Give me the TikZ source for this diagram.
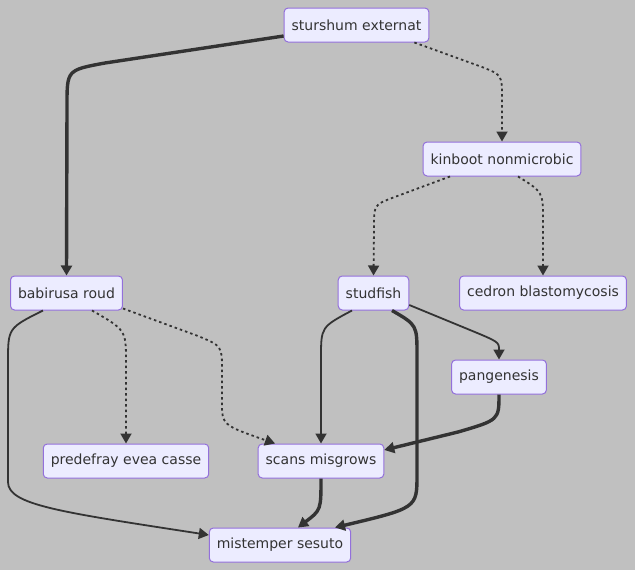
\documentclass[tikz,border=0pt]{standalone}
\usepackage{fontspec}
\setmainfont{DejaVu Sans}
\usetikzlibrary{arrows.meta,calc}
\definecolor{bg}{HTML}{C0C0C0}
\definecolor{nodefill}{HTML}{ECECFF}
\definecolor{nodeline}{HTML}{9370DB}
\definecolor{ink}{HTML}{333333}
\tikzset{
  box/.style={draw=nodeline, fill=nodefill, line width=1pt, rounded corners=4pt,
    minimum height=34pt, inner xsep=7.5pt, inner ysep=0pt, text=ink,
    font=\fontsize{14}{17}\selectfont},
  edge/.style={draw=ink, line width=1.8pt, -{Triangle[length=10pt,width=11pt]}},
  thickedge/.style={edge, line width=3.4pt, -{Triangle[length=10pt,width=11pt]}},
  dotedge/.style={edge, dash pattern=on 2.5pt off 3pt}
}
\begin{document}
\begin{tikzpicture}[x=1pt,y=-1pt]
\fill[bg] (0,0) rectangle (635,570);
\useasboundingbox (0,0) rectangle (635,570);

\node[box] (stu) at (356.5,25) {sturshum externat};
\node[box] (kin) at (502,159) {kinboot nonmicrobic};
\node[box] (bab) at (66.5,293) {babirusa roud};
\node[box] (fish) at (373.5,293) {studfish};
\node[box] (ced) at (543,293) {cedron blastomycosis};
\node[box] (pan) at (499,377) {pangenesis};
\node[box] (pre) at (126,461) {predefray evea casse};
\node[box] (scn) at (321,461) {scans misgrows};
\node[box] (mis) at (280,545) {mistemper sesuto};

% sturshum -> babirusa
\draw[thickedge] ([yshift=-11pt]stu.west) -- (105,63) .. controls (67,70) .. (67,105) -- (bab.north);
% sturshum -> kinboot
\draw[dotedge] ([xshift=-15pt]stu.south east) -- (482,67) .. controls (502,75) .. (502,98) -- (kin.north);
% kinboot -> studfish
\draw[dotedge] ([xshift=-52pt]kin.south) -- (392,198) .. controls (374,205) .. (374,228) -- (fish.north);
% kinboot -> cedron
\draw[dotedge] ([xshift=16pt]kin.south) .. controls (543,192) .. (543,220) -- (ced.north);
% babirusa -> predefray
\draw[dotedge] ([xshift=25.5pt]bab.south) .. controls (126,330) .. (126,362) -- (pre.north);
% babirusa -> scans
\draw[dotedge] ([yshift=2pt]bab.south east) -- (198,336) .. controls (222,346) .. (222,370) -- (222,402) .. controls (222,425) .. ([xshift=-46pt]scn.north);
% babirusa -> mistemper
\draw[edge] ([xshift=-23.5pt]bab.south) .. controls (8,328) .. (8,362) -- (8,482) .. controls (8,505) and (60,512) .. ([yshift=10pt]mis.west);
% studfish -> scans
\draw[edge] ([xshift=-21.5pt]fish.south) .. controls (321,327) .. (321,358) -- (scn.north);
% studfish -> mistemper
\draw[thickedge] ([xshift=18.5pt]fish.south) .. controls (417,325) .. (417,355) -- (417,475) .. controls (417,508) .. ([xshift=55pt]mis.north);
% studfish -> pangenesis
\draw[edge] ([yshift=-12pt]fish.east) -- (470,330) .. controls (499,342) .. (pan.north);
% pangenesis -> scans
\draw[thickedge] (pan.south) .. controls (499,420) .. (458,432) -- ([yshift=11pt]scn.east);
% scans -> mistemper
\draw[thickedge] (scn.south) .. controls (321,510) .. ([xshift=18pt]mis.north);
\end{tikzpicture}
\end{document}
